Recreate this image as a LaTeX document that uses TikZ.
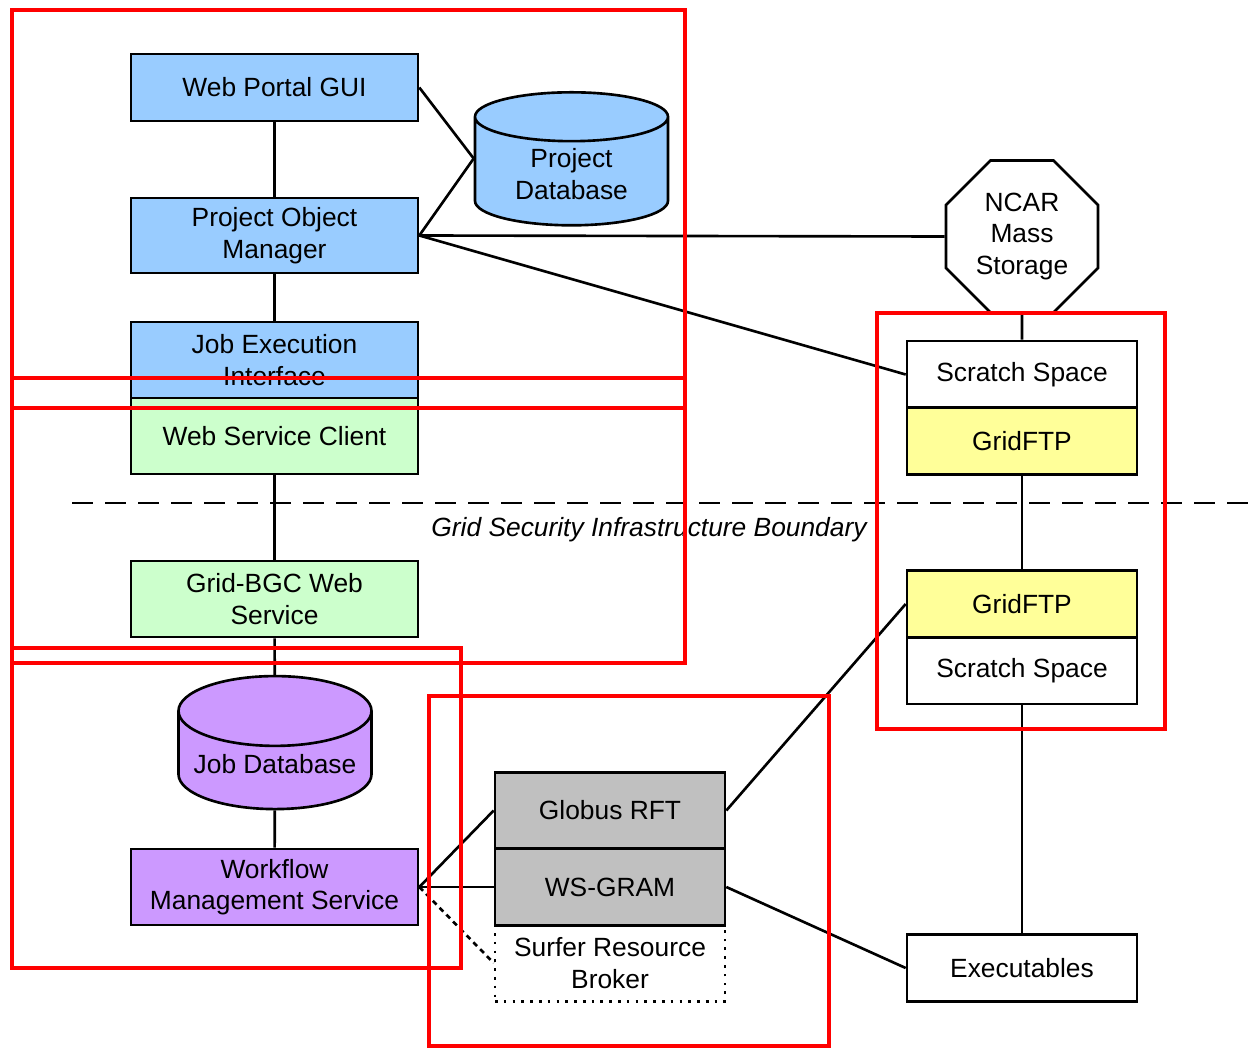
\documentclass[tikz,border=0pt]{standalone}
\usepackage{fontspec}
\setmainfont{Liberation Sans}
\usetikzlibrary{shapes.geometric}
\definecolor{portalblue}{HTML}{99CCFF}
\definecolor{servicegreen}{HTML}{CCFFCC}
\definecolor{jobpurple}{HTML}{CC99FF}
\definecolor{globusgray}{HTML}{C0C0C0}
\definecolor{ftpyellow}{HTML}{FFFF99}
\begin{document}
\begin{tikzpicture}[x=0.2mm,y=-0.2mm,line width=1.5pt,
    font=\fontsize{15}{18}\selectfont,
    box/.style={draw,rectangle,align=center,inner sep=1pt,minimum width=5.74cm,minimum height=1.52cm},
    smallbox/.style={box,minimum width=4.6cm,minimum height=1.34cm},
    gridbox/.style={box,minimum width=4.6cm,minimum height=1.53cm},
    dbase/.style={draw,cylinder,shape border rotate=90,aspect=0.42,align=center,inner sep=1pt,minimum width=3.86cm,minimum height=2.66cm},
    site/.style={red,line width=2.8pt}]
  \useasboundingbox (0,0) rectangle (1251,1049);
  % portal side
  \node[box,fill=portalblue,minimum height=1.34cm] (GUI) at (274.5,87.5) {Web Portal GUI};
  \node[box,fill=portalblue,minimum height=1.5cm] (POM) at (274.5,235.5) {Project Object\\Manager};
  \node[box,fill=portalblue] (JEI) at (274.5,360) {Job Execution\\Interface};
  \node[box,fill=servicegreen] (WSC) at (274.5,436) {Web Service Client};
  \node[dbase,fill=portalblue] (PDB) at (571.5,174) {Project\\Database};
  % grid side
  \node[box,fill=servicegreen] (BGC) at (274.5,599) {Grid-BGC Web\\Service};
  \node[dbase,fill=jobpurple] (JDB) at (275,764) {Job Database};
  \node[box,fill=jobpurple] (WMS) at (274.5,887) {Workflow\\Management Service};
  \node[gridbox,dash pattern=on 1.5pt off 3.5pt] (SRB) at (610,963) {Surfer Resource\\Broker};
  \node[gridbox,fill=globusgray] (RFT) at (610,810.5) {Globus RFT};
  \node[gridbox,fill=globusgray] (GRAM) at (610,887) {WS-GRAM};
  % storage
  \node[draw,regular polygon,regular polygon sides=8,minimum size=3.29cm,inner sep=0pt,align=center] (NCAR) at (1022,236.5) {NCAR\\Mass\\Storage};
  \node[smallbox] (Scratch) at (1022,374.5) {Scratch Space};
  \node[smallbox,fill=ftpyellow] (FTP) at (1022,441) {GridFTP};
  \node[smallbox,fill=ftpyellow] (FTP') at (1022,604) {GridFTP};
  \node[smallbox] (Scratch') at (1022,670.5) {Scratch Space};
  \node[smallbox] (Exe) at (1022,968) {Executables};
  % boundary
  \coordinate (B1) at (72,503);
  \coordinate (B2) at (1251,503);
  \draw[dash pattern=on 0.42cm off 0.24cm] (B1) -- (B2);
  \node[font=\fontsize{15}{18}\selectfont\itshape] (GSI) at (649,530) {Grid Security Infrastructure Boundary};
  % connections
  \draw (GUI) -- (POM);
  \draw (GUI.east) -- ([yshift=3.1mm]PDB.west);
  \draw (POM.east) -- ([yshift=3.1mm]PDB.west);
  \draw (POM) -- (JEI);
  \draw (POM.east) -- (NCAR.west);
  \draw (POM.east) -- (Scratch.west);
  \draw (WSC) -- (BGC);
  \draw (BGC) -- (JDB);
  \draw (JDB) -- (WMS);
  \draw (WMS.east) -- (RFT.west);
  \draw (WMS.east) -- (GRAM.west);
  \draw[dash pattern=on 3pt off 2.5pt] (WMS.east) -- (SRB.west);
  \draw (RFT.east) -- (FTP'.west);
  \draw (GRAM.east) -- (Exe.west);
  \draw (NCAR) -- (Scratch);
  \draw (FTP) -- (FTP');
  \draw (Scratch') -- (Exe);
  % sites
  \draw[site] (12,10) rectangle (685,408);
  \draw[site] (12,378) rectangle (685,663);
  \draw[site] (12,648) rectangle (461,968);
  \draw[site] (429,696) rectangle (829,1046);
  \draw[site] (877,313) rectangle (1165,729);
\end{tikzpicture}
\end{document}
